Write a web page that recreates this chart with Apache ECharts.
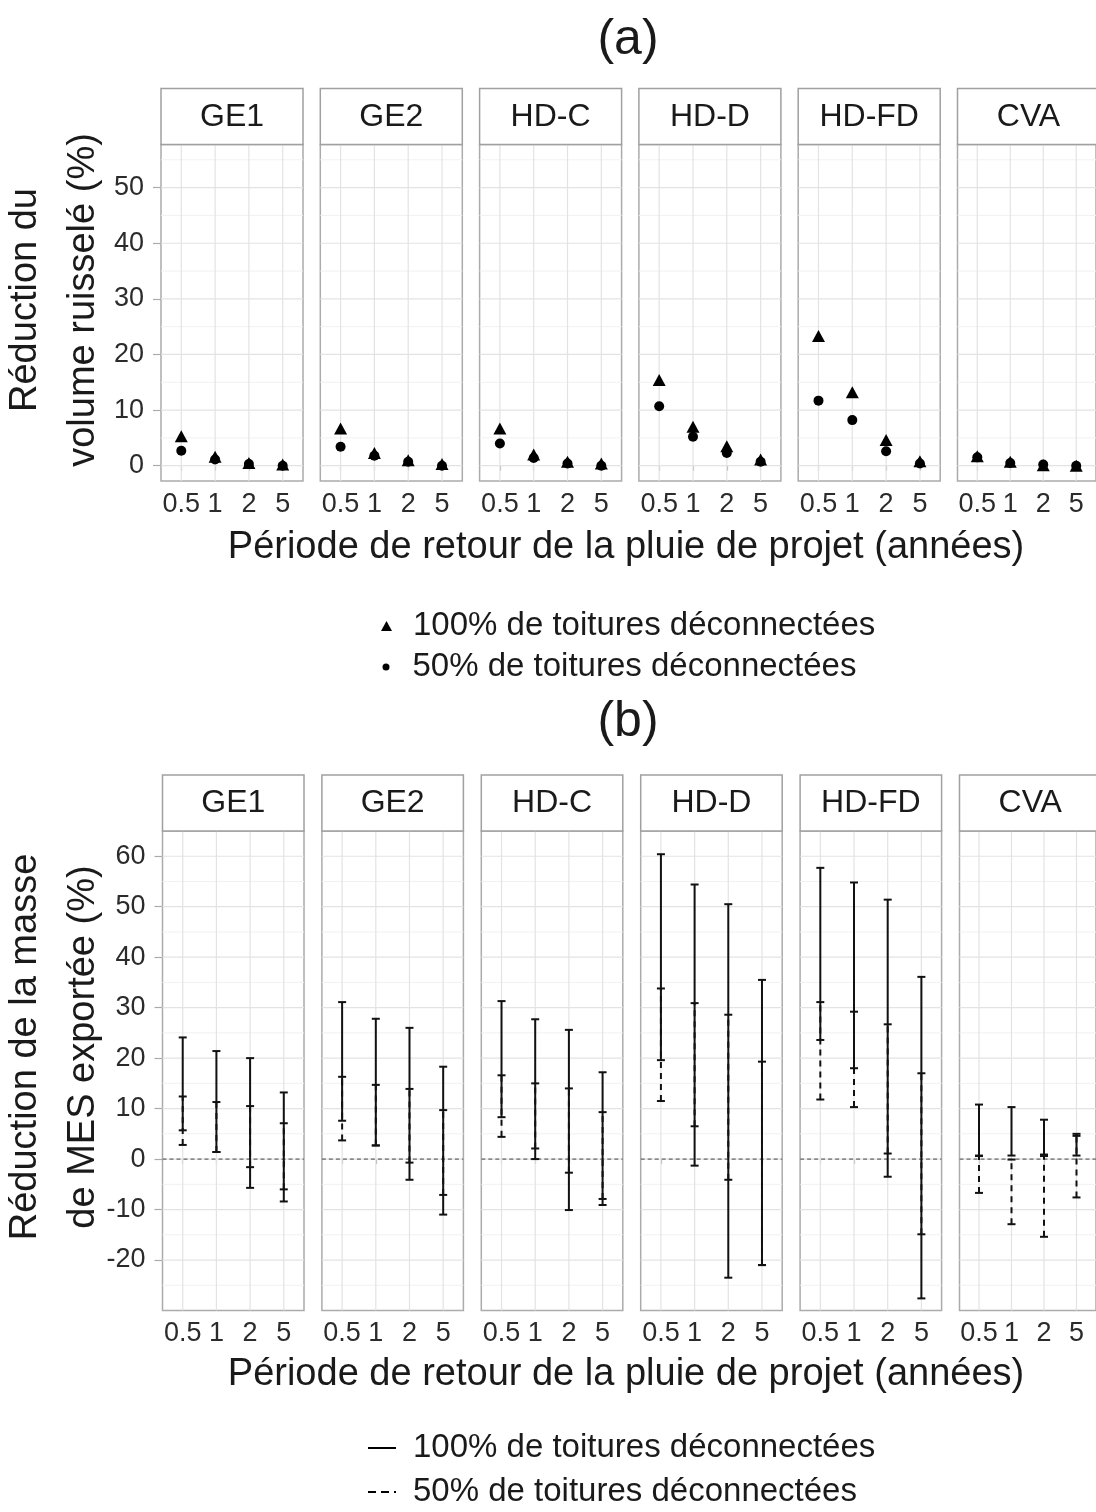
<!DOCTYPE html>
<html>
<head>
<meta charset="utf-8">
<script src="https://cdn.jsdelivr.net/npm/echarts@6.0.0/dist/echarts.min.js"></script>
<style>
html, body { margin: 0; padding: 0; background: #fff; }
#main { width: 1096px; height: 1512px; }
</style>
</head>
<body>
<div id="main"></div>
<script>
var chartDom = document.getElementById('main');
var myChart = echarts.init(chartDom);
var option;

let facets = ['GE1', 'GE2', 'HD-C', 'HD-D', 'HD-FD', 'CVA'];
let periods = ['0.5', '1', '2', '5'];
let name100 = '100% de toitures déconnectées';
let name50 = '50% de toitures déconnectées';

// (a) réduction du volume ruisselé (%), une ligne par bassin
let vol100 = [
  [5.3, 1.6, 0.5, 0.2],
  [6.7, 2.3, 1.0, 0.3],
  [6.7, 2.0, 0.7, 0.4],
  [15.4, 7.0, 3.5, 1.1],
  [23.3, 13.2, 4.6, 0.8],
  [1.7, 0.7, 0.1, 0.0]
];
let vol50 = [
  [2.7, 1.1, 0.3, 0.0],
  [3.4, 1.8, 0.7, 0.0],
  [4.0, 1.4, 0.4, 0.0],
  [10.7, 5.2, 2.3, 0.7],
  [11.7, 8.2, 2.6, 0.4],
  [1.5, 0.5, 0.2, 0.0]
];

// (b) réduction de la masse de MES exportée (%) : bornes basses et hautes
let mesLow100 = [
  [5.7, 1.4, -5.7, -8.4],
  [7.6, 2.7, -4.1, -11.0],
  [8.3, 0.0, -10.1, -9.1],
  [19.6, -1.3, -23.5, -21.0],
  [23.6, 18.0, -3.5, -27.6],
  [0.7, 0.7, 0.9, 0.7]
];
let mesHigh100 = [
  [24.1, 21.4, 20.0, 13.2],
  [31.1, 27.8, 26.0, 18.3],
  [31.3, 27.7, 25.6, 17.2],
  [60.4, 54.4, 50.5, 35.5],
  [57.7, 54.8, 51.4, 36.1],
  [10.8, 10.3, 7.8, 5.0]
];
let mesLow50 = [
  [2.8, 1.4, -1.6, -6.0],
  [3.7, 2.7, -0.7, -7.1],
  [4.4, 2.1, -2.7, -7.9],
  [11.5, 6.5, -4.1, -21.0],
  [11.8, 10.3, 1.1, -14.9],
  [-6.7, -12.9, -15.4, -7.6]
];
let mesHigh50 = [
  [12.4, 11.3, 10.5, 7.1],
  [16.3, 14.7, 13.9, 9.7],
  [16.6, 15.0, 14.0, 9.3],
  [33.8, 30.9, 28.6, 19.3],
  [31.1, 29.2, 26.7, 17.0],
  [0.6, -0.1, 0.6, 4.6]
];

let yTicksA = [0, 10, 20, 30, 40, 50];
let yMinorA = [5, 15, 25, 35, 45, 55];
let yTicksB = [-20, -10, 0, 10, 20, 30, 40, 50, 60];
let yMinorB = [-25, -15, -5, 5, 15, 25, 35, 45, 55];
let xTicks = [1, 2, 3, 4];
let zeroLine = [0];

let font = '"Liberation Sans", Arial, Helvetica, sans-serif';
let grids = [], xAxes = [], yAxes = [], series = [], graphics = [];

function gridRenderer(major, minor) {
  return function (params, api) {
    let cs = params.coordSys;
    let kids = [];
    minor.forEach(function (v) {
      let y = api.coord([1, v])[1];
      kids.push({ type: 'line', shape: { x1: cs.x, y1: y, x2: cs.x + cs.width, y2: y },
        style: { stroke: '#f1f1f1', lineWidth: 1 } });
    });
    major.forEach(function (v) {
      let y = api.coord([1, v])[1];
      kids.push({ type: 'line', shape: { x1: cs.x, y1: y, x2: cs.x + cs.width, y2: y },
        style: { stroke: '#e3e3e3', lineWidth: 1.2 } });
    });
    xTicks.forEach(function (v) {
      let x = api.coord([v, 0])[0];
      kids.push({ type: 'line', shape: { x1: x, y1: cs.y, x2: x, y2: cs.y + cs.height },
        style: { stroke: '#e3e3e3', lineWidth: 1.2 } });
    });
    return { type: 'group', children: kids };
  };
}

function zeroRenderer(params, api) {
  let cs = params.coordSys;
  let y = api.coord([1, api.value(0)])[1];
  return { type: 'line', shape: { x1: cs.x, y1: y, x2: cs.x + cs.width, y2: y },
    style: { stroke: '#444', lineWidth: 1, lineDash: [4, 3] } };
}

function barRenderer(dashed) {
  return function (params, api) {
    let x = api.value(0);
    let pLo = api.coord([x, api.value(1)]);
    let pHi = api.coord([x, api.value(2)]);
    let w = 4;
    let capStyle = { stroke: '#111', lineWidth: 2 };
    let lineStyle = { stroke: '#111', lineWidth: 2 };
    if (dashed) lineStyle.lineDash = [6, 5];
    return {
      type: 'group',
      children: [
        { type: 'line', shape: { x1: pLo[0], y1: pLo[1], x2: pHi[0], y2: pHi[1] }, style: lineStyle },
        { type: 'line', shape: { x1: pLo[0] - w, y1: pLo[1], x2: pLo[0] + w, y2: pLo[1] }, style: capStyle },
        { type: 'line', shape: { x1: pHi[0] - w, y1: pHi[1], x2: pHi[0] + w, y2: pHi[1] }, style: capStyle }
      ]
    };
  };
}

function addPanel(k, left, top, width, height, yMin, yMax, ticks, minor, first) {
  grids.push({ left: left, top: top, width: width, height: height, show: true,
    borderColor: '#ababab', borderWidth: 1.5, backgroundColor: '#fff' });
  xAxes.push({
    gridIndex: k, type: 'value', min: 0.4, max: 4.6,
    splitLine: { show: false }, axisLine: { show: false },
    axisTick: { show: true, customValues: xTicks, length: 5, lineStyle: { color: '#ababab', width: 1.2 } },
    axisLabel: { customValues: xTicks, formatter: function (v) { return periods[Math.round(v) - 1]; },
      fontSize: 27, color: '#2b2b2b', margin: 10, fontFamily: font }
  });
  yAxes.push({
    gridIndex: k, type: 'value', min: yMin, max: yMax,
    splitLine: { show: false }, axisLine: { show: false },
    axisTick: { show: first, customValues: ticks, length: 8, lineStyle: { color: '#ababab', width: 1.2 } },
    axisLabel: { show: first, customValues: ticks, fontSize: 27, color: '#2b2b2b', margin: 17, fontFamily: font }
  });
  series.push({ type: 'custom', xAxisIndex: k, yAxisIndex: k, z: 1, silent: true,
    data: [[1, 0]], renderItem: gridRenderer(ticks, minor) });
  // strip
  graphics.push({ type: 'rect', shape: { x: left, y: top - 56, width: width, height: 56 },
    style: { fill: '#fff', stroke: '#a0a0a0', lineWidth: 1.5 }, z: 10 });
}

// (a) panels
for (let i = 0; i < facets.length; i++) {
  let left = 161 + i * 159.3;
  addPanel(i, left, 144.5, 142, 336.5, -2.75, 57.75, yTicksA, yMinorA, i === 0);
  graphics.push({ type: 'text', x: left + 71, y: 117, z: 11,
    style: { text: facets[i], fontSize: 32, fontFamily: font, fill: '#1a1a1a', textAlign: 'center', textVerticalAlign: 'middle' } });
  series.push({
    name: name50, type: 'scatter', xAxisIndex: i, yAxisIndex: i, z: 3,
    symbol: 'circle', symbolSize: 10, itemStyle: { color: '#000', opacity: 1 },
    data: vol50[i].map(function (v, j) { return [xTicks[j], v]; })
  });
  series.push({
    name: name100, type: 'scatter', xAxisIndex: i, yAxisIndex: i, z: 4,
    symbol: 'triangle', symbolSize: [13, 12], itemStyle: { color: '#000', opacity: 1 },
    data: vol100[i].map(function (v, j) { return [xTicks[j], v]; })
  });
}

// (b) panels
for (let i = 0; i < facets.length; i++) {
  let k = facets.length + i;
  let left = 162.5 + i * 159.4;
  addPanel(k, left, 831, 141.5, 479.5, -30, 65, yTicksB, yMinorB, i === 0);
  graphics.push({ type: 'text', x: left + 70.75, y: 803, z: 11,
    style: { text: facets[i], fontSize: 32, fontFamily: font, fill: '#1a1a1a', textAlign: 'center', textVerticalAlign: 'middle' } });
  series.push({ type: 'custom', xAxisIndex: k, yAxisIndex: k, z: 2, silent: true,
    data: zeroLine.map(function (v) { return [v]; }), renderItem: zeroRenderer });
  series.push({
    name: name50, type: 'custom', xAxisIndex: k, yAxisIndex: k, z: 3,
    itemStyle: { color: '#000' }, encode: { x: 0, y: [1, 2] },
    renderItem: barRenderer(true),
    data: mesLow50[i].map(function (v, j) { return [xTicks[j], v, mesHigh50[i][j]]; })
  });
  series.push({
    name: name100, type: 'custom', xAxisIndex: k, yAxisIndex: k, z: 4,
    itemStyle: { color: '#000' }, encode: { x: 0, y: [1, 2] },
    renderItem: barRenderer(false),
    data: mesLow100[i].map(function (v, j) { return [xTicks[j], v, mesHigh100[i][j]]; })
  });
}

// titles
let xTitle = 'Période de retour de la pluie de projet (années)';
graphics.push(
  { type: 'text', x: 628, y: 40, style: { text: '(a)', fontSize: 50, fontFamily: font, fill: '#1a1a1a', textAlign: 'center', textVerticalAlign: 'middle' } },
  { type: 'text', x: 626, y: 548, style: { text: xTitle, fontSize: 38, fontFamily: font, fill: '#1a1a1a', textAlign: 'center', textVerticalAlign: 'middle' } },
  { type: 'text', x: 55, y: 300, rotation: Math.PI / 2,
    style: { text: 'Réduction du\nvolume ruisselé (%)', fontSize: 38, lineHeight: 58, fontFamily: font, fill: '#1a1a1a', textAlign: 'center', textVerticalAlign: 'middle' } },
  { type: 'text', x: 628, y: 722, style: { text: '(b)', fontSize: 50, fontFamily: font, fill: '#1a1a1a', textAlign: 'center', textVerticalAlign: 'middle' } },
  { type: 'text', x: 626, y: 1375, style: { text: xTitle, fontSize: 38, fontFamily: font, fill: '#1a1a1a', textAlign: 'center', textVerticalAlign: 'middle' } },
  { type: 'text', x: 55, y: 1047, rotation: Math.PI / 2,
    style: { text: 'Réduction de la masse\nde MES exportée (%)', fontSize: 38, lineHeight: 58, fontFamily: font, fill: '#1a1a1a', textAlign: 'center', textVerticalAlign: 'middle' } }
);

let legendText = { fontSize: 33, fontFamily: font, color: '#1a1a1a', lineHeight: 36 };

option = {
  animation: false,
  backgroundColor: '#fff',
  grid: grids,
  xAxis: xAxes,
  yAxis: yAxes,
  legend: [
    { left: 381, top: 608, padding: 0, itemWidth: 11, itemHeight: 10, selectedMode: false,
      itemStyle: { opacity: 1 },
      textStyle: Object.assign({ padding: [0, 0, 0, 16] }, legendText),
      data: [{ name: name100, icon: 'triangle' }] },
    { left: 382.5, top: 649, padding: 0, itemWidth: 7, itemHeight: 7, selectedMode: false,
      itemStyle: { opacity: 1 },
      textStyle: Object.assign({ padding: [0, 0, 0, 18] }, legendText),
      data: [{ name: name50, icon: 'circle' }] },
    { left: 368, top: 1430, padding: 0, orient: 'vertical', itemWidth: 28, itemHeight: 2, itemGap: 8, selectedMode: false,
      textStyle: Object.assign({ padding: [0, 0, 0, 12] }, legendText),
      data: [
        { name: name100, icon: 'path://M0,0H28V2H0Z' },
        { name: name50, icon: 'path://M0,0H8V2H0Z M13,0H21V2H13Z M26,0H28V2H26Z' }
      ] }
  ],
  graphic: graphics,
  series: series
};

option && myChart.setOption(option);
</script>
</body>
</html>
